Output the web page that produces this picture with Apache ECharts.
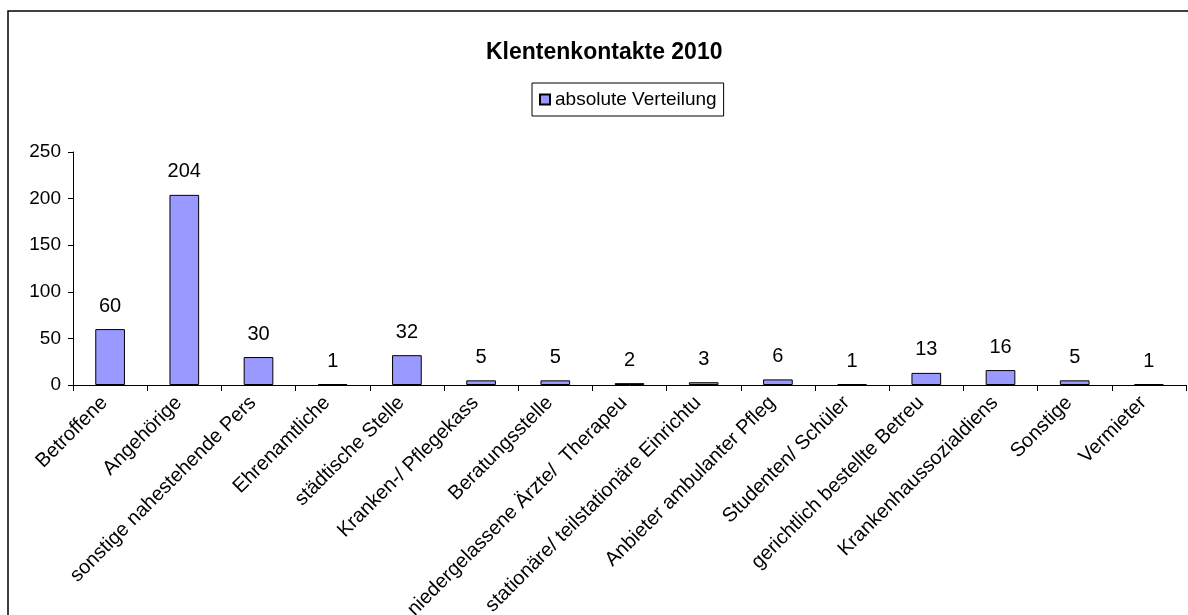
<!DOCTYPE html>
<html>
<head>
<meta charset="utf-8">
<script src="https://cdn.jsdelivr.net/npm/echarts@6/dist/echarts.min.js"></script>
<style>
  html, body { margin: 0; padding: 0; background: #fff; }
  #chart { width: 1188px; height: 615px; }
</style>
</head>
<body>
<div id="chart"></div>
<script>
// Kategorien (abgeschnitten wie im Original)
const categories = [
  "Betroffene",
  "Angehörige",
  "sonstige nahestehende Pers",
  "Ehrenamtliche",
  "städtische Stelle",
  "Kranken-/ Pflegekass",
  "Beratungsstelle",
  "niedergelassene Ärzte/  Therapeu",
  "stationäre/ teilstationäre Einrichtu",
  "Anbieter ambulanter Pfleg",
  "Studenten/ Schüler",
  "gerichtlich bestellte Betreu",
  "Krankenhaussozialdiens",
  "Sonstige",
  "Vermieter"
];
const absoluteVerteilung = [60, 204, 30, 1, 32, 5, 5, 2, 3, 6, 1, 13, 16, 5, 1];
const yTicks = { min: 0, max: 250, interval: 50 };

const font = "'Liberation Sans', Arial, sans-serif";
const chart = echarts.init(document.getElementById("chart"));
chart.setOption({
  animation: false,
  textStyle: { fontFamily: font, color: "#000" },
  title: {
    text: "Klentenkontakte 2010",
    left: 481,
    top: 36,
    textStyle: { fontSize: 23, fontWeight: "bold", color: "#000", fontFamily: font }
  },
  legend: {
    left: 532,
    top: 83,
    padding: [7, 7],
    borderColor: "#000",
    borderWidth: 1,
    itemWidth: 10,
    itemHeight: 10,
    itemGap: 5,
    icon: "rect",
    textStyle: { fontSize: 19, color: "#000", fontFamily: font },
    data: ["absolute Verteilung"]
  },
  graphic: [
    {
      type: "rect",
      shape: { x: 8, y: 11, width: 1400, height: 800 },
      style: { fill: "none", stroke: "#000", lineWidth: 1.5 },
      silent: true
    }
  ],
  grid: {
    left: 73,
    right: 2,
    top: 152,
    bottom: 230,
    containLabel: false,
    outerBoundsMode: "none"
  },
  xAxis: {
    type: "category",
    data: categories,
    boundaryGap: true,
    axisLine: { lineStyle: { color: "#000", width: 1 } },
    axisTick: { show: true, length: 6, lineStyle: { color: "#000" } },
    axisLabel: {
      interval: 0,
      rotate: 45,
      margin: 9,
      padding: [0, 8, 0, 0],
      fontSize: 20,
      color: "#000",
      fontFamily: font
    }
  },
  yAxis: {
    type: "value",
    min: yTicks.min,
    max: yTicks.max,
    interval: yTicks.interval,
    axisLine: { show: true, lineStyle: { color: "#000", width: 1 } },
    axisTick: { show: true, length: 5, lineStyle: { color: "#000" } },
    splitLine: { show: false },
    axisLabel: { fontSize: 19, color: "#000", margin: 12, fontFamily: font }
  },
  series: [
    {
      name: "absolute Verteilung",
      type: "bar",
      barWidth: "40%",
      itemStyle: { color: "#9999FF", borderColor: "#000", borderWidth: 1 },
      label: {
        show: true,
        position: "top",
        distance: 13,
        fontSize: 20,
        color: "#000",
        fontFamily: font
      },
      data: absoluteVerteilung
    }
  ]
});
</script>
</body>
</html>
